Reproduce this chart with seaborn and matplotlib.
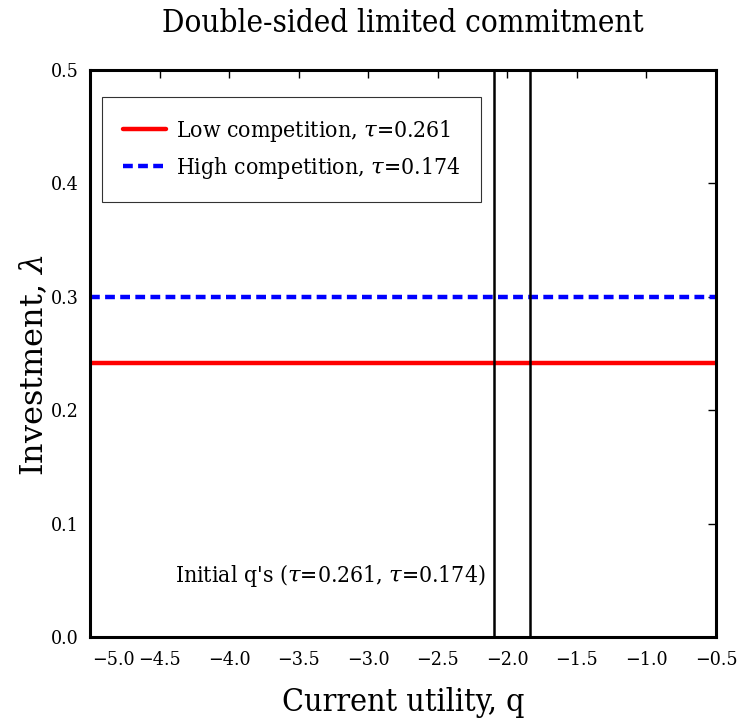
import numpy as np
import pandas as pd
import matplotlib
matplotlib.use("Agg")
import matplotlib.pyplot as plt
import seaborn as sns

# ---- data ----
q_grid = [-5.0, -0.5]
lam_low = [0.242, 0.242]      # Low competition, tau=0.261
lam_high = [0.300, 0.300]     # High competition, tau=0.174
initial_q = [-2.094, -1.836]  # initial q's for tau=0.261, tau=0.174
x_ticks = [-5.0, -4.5, -4.0, -3.5, -3.0, -2.5, -2.0, -1.5, -1.0, -0.5]
y_ticks = [0.0, 0.1, 0.2, 0.3, 0.4, 0.5]
labels = [r"Low competition, $\tau$=0.261", r"High competition, $\tau$=0.174"]

sns.set_theme(style="white")
plt.rcParams['font.family'] = ['DejaVu Serif', 'DejaVu Sans']
plt.rcParams['mathtext.fontset'] = 'dejavuserif'

fig = plt.figure(figsize=(7.43, 7.25), dpi=100)
ax = fig.add_axes([90/743, 1 - 637/725, (716-90)/743, (637-70)/725])

df_low = pd.DataFrame({"q": q_grid, "lam": lam_low})
df_high = pd.DataFrame({"q": q_grid, "lam": lam_high})
sns.lineplot(data=df_low, x="q", y="lam", ax=ax, color="#ff0000", lw=3.2,
             label=labels[0])
sns.lineplot(data=df_high, x="q", y="lam", ax=ax, color="#0000ff", lw=3.2,
             linestyle=(0, (2.2, 1.2)), label=labels[1])
for qv in initial_q:
    ax.axvline(qv, color="black", lw=1.8)

ax.text(-2.155, 0.0546, r"Initial q's ($\tau$=0.261, $\tau$=0.174)",
        ha="right", va="center", fontsize=16.5, color="black",
        stretch="condensed")

ax.set_xlim(-5.0, -0.5)
ax.set_ylim(0.0, 0.5)
ax.set_xticks(x_ticks)
xt_labels = [f"{t:.1f}".replace("-", "\u2212") for t in x_ticks]
# first label is drawn left-aligned at its tick (as in the original)
ax.set_xticklabels([""] + xt_labels[1:])
ax.set_yticks(y_ticks)
ax.set_yticklabels([f"{t:.1f}" for t in y_ticks])
ax.tick_params(direction="in", length=6, width=1, top=True, right=True,
               labelsize=14, colors="black")
ax.tick_params(axis="x", pad=10)
ax.tick_params(axis="y", pad=8)
for t in ax.get_xticklabels() + ax.get_yticklabels():
    t.set_fontstretch("condensed")
ax.annotate(xt_labels[0], xy=(x_ticks[0], 0), xycoords=("data", "axes fraction"),
            xytext=(1.5, -10), textcoords="offset points",
            ha="left", va="top", fontsize=14, color="black",
            stretch="condensed")

for s in ax.spines.values():
    s.set_linewidth(2.2)
    s.set_color("black")

ax.set_xlabel("Current utility, q", fontsize=23, stretch="condensed",
              labelpad=13, color="black")
ax.set_ylabel("Investment, " + r"$\lambda$", fontsize=23, color="black")
ax.yaxis.set_label_coords(-0.064, 0.48)
ax.set_title("Double-sided limited commitment", fontsize=22.5,
             stretch="condensed", pad=27, color="black")

leg = ax.legend(loc="upper left", bbox_to_anchor=(0.019, 0.952),
                prop={"size": 16.5, "stretch": "condensed"},
                frameon=True, fancybox=False, edgecolor="black",
                handlelength=1.9, handletextpad=0.45, borderpad=0.9,
                labelspacing=0.5, borderaxespad=0.0)
leg.get_frame().set_linewidth(0.8)
for t in leg.get_texts():
    t.set_color("black")

fig.savefig("out.png", dpi=100)
